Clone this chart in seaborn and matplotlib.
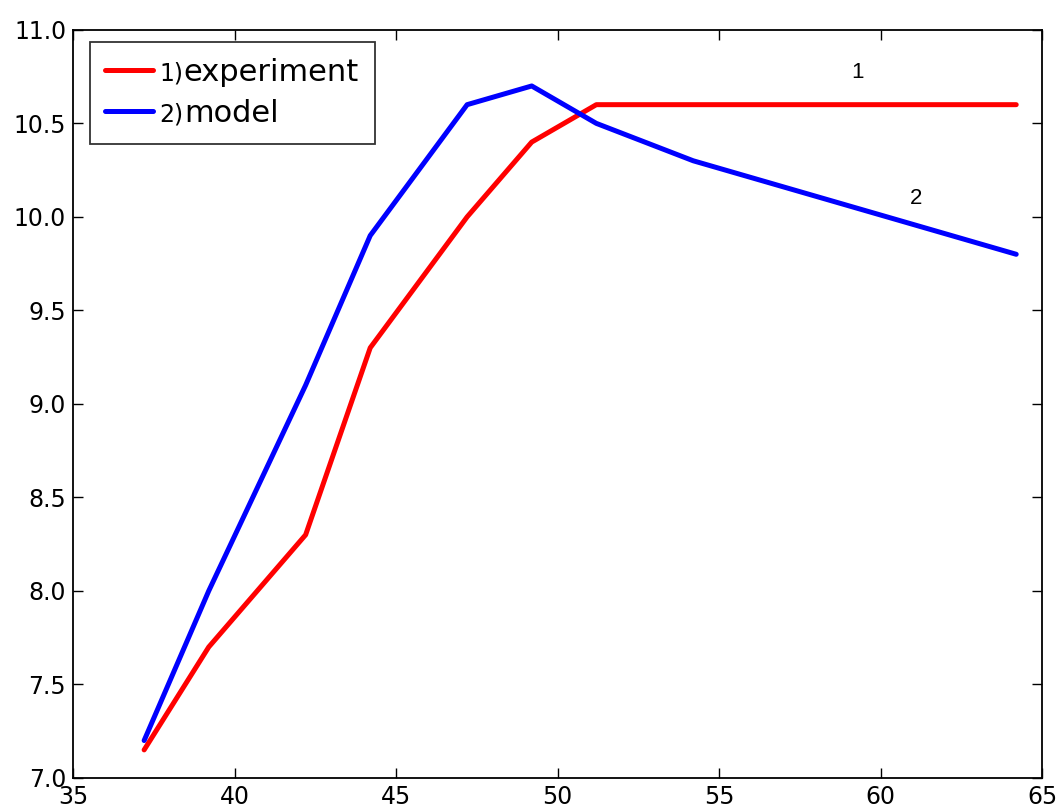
import pandas as pd
import numpy as np
import seaborn as sns
import matplotlib.pyplot as plt
from matplotlib.offsetbox import TextArea, HPacker

# data
x_exp = [37.2, 39.2, 42.2, 44.2, 47.2, 49.2, 51.2, 64.2]
y_exp = [7.15, 7.7, 8.3, 9.3, 10.0, 10.4, 10.6, 10.6]
x_model = [37.2, 39.2, 42.2, 44.2, 47.2, 49.2, 51.2, 54.2, 64.2]
y_model = [7.2, 8.0, 9.1, 9.9, 10.6, 10.7, 10.5, 10.3, 9.8]
names = ["experiment", "model"]
prefixes = ["1)", "2)"]

df = pd.concat([
    pd.DataFrame({"x": x_exp, "y": y_exp, "series": names[0]}),
    pd.DataFrame({"x": x_model, "y": y_model, "series": names[1]}),
])

sns.set_style("ticks", {"xtick.direction": "in", "ytick.direction": "in",
                        "axes.edgecolor": "black", "text.color": "black",
                        "xtick.color": "black", "ytick.color": "black"})
plt.rcParams["font.family"] = ["DejaVu Sans"]

fig, ax = plt.subplots(figsize=(10.59, 8.07), dpi=100)
fig.subplots_adjust(left=0.069, right=0.984, top=0.963, bottom=0.036)

sns.lineplot(data=df, x="x", y="y", hue="series", palette=["red", "blue"],
             linewidth=3.6, ax=ax, sort=False)

ax.set_xlim(35, 65)
ax.set_ylim(7.0, 11.0)
ax.set_xticks(np.arange(35, 66, 5))
ax.set_yticks(np.arange(7.0, 11.01, 0.5))
ax.tick_params(labelsize=17, labelcolor="black", top=True, right=True,
               length=7, width=1, pad=5)
for s in ax.spines.values():
    s.set_linewidth(1.3)
ax.set_xlabel("")
ax.set_ylabel("")

ax.text(59.3, 10.77, "1", fontsize=16, family="Liberation Sans", ha="center", va="center")
ax.text(61.1, 10.1, "2", fontsize=16, family="Liberation Sans", ha="center", va="center")

leg = ax.legend(loc="upper left", bbox_to_anchor=(0.017, 0.984), borderaxespad=0,
                fontsize=22, frameon=True, fancybox=False,
                handlelength=1.55, borderpad=0.52, labelspacing=0.4)
leg.get_frame().set_edgecolor("black")
leg.get_frame().set_linewidth(1.3)
for line in leg.get_lines():
    line.set_linewidth(3.6)

# smaller "1)" / "2)" glued in front of each legend label
rows = [r for col in leg._legend_handle_box.get_children() for r in col.get_children()]
for row, pre in zip(rows, prefixes):
    ta = TextArea(pre, textprops=dict(size=17, color="black"))
    kids = row.get_children()
    label_box = HPacker(children=[ta, kids[1]], align="baseline", pad=0, sep=0)
    label_box.set_figure(fig)
    kids[1] = label_box
    row.sep = 5

plt.savefig("out.png")
